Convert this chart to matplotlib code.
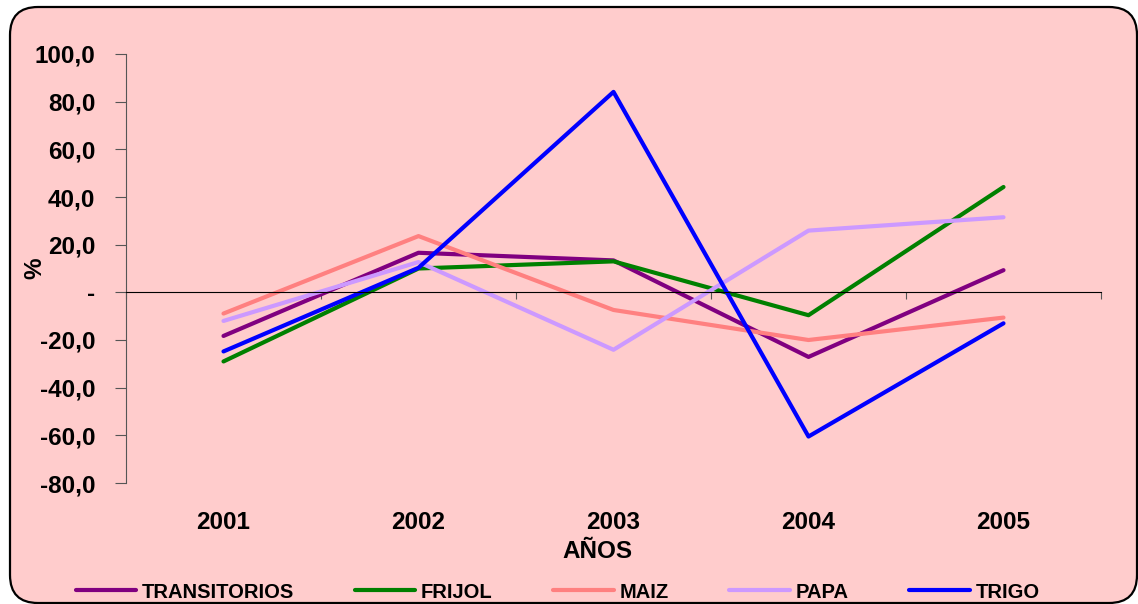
import matplotlib.pyplot as plt
from matplotlib.patches import FancyBboxPatch
from matplotlib.ticker import FuncFormatter

years = ["2001", "2002", "2003", "2004", "2005"]
transitorios = [-18.3, 16.6, 13.4, -27.1, 9.3]
frijol = [-29.0, 10.0, 13.0, -9.6, 44.2]
maiz = [-8.9, 23.6, -7.4, -20.0, -10.6]
papa = [-12.0, 12.7, -24.1, 25.9, 31.5]
trigo = [-24.8, 10.3, 84.1, -60.5, -13.0]

series = [
    ("TRANSITORIOS", transitorios, "#800080"),
    ("FRIJOL", frijol, "#008000"),
    ("MAIZ", maiz, "#FF8080"),
    ("PAPA", papa, "#CC99FF"),
    ("TRIGO", trigo, "#0000FF"),
]

plt.rcParams['font.family'] = ['Liberation Sans', 'DejaVu Sans']
plt.rcParams['font.weight'] = 'bold'

bg = "#FFCCCC"
fig = plt.figure(figsize=(11.38, 6.04), dpi=100)
fig.patch.set_facecolor("white")

# rounded chart-area border (pixel coords), kept behind the axes
frame = FancyBboxPatch((10, 1), 1127, 596, boxstyle="round,pad=0,rounding_size=28",
                       transform=None, facecolor=bg, edgecolor="black", linewidth=1.6,
                       zorder=-5)
fig.patches.append(frame)

ax = fig.add_axes([126 / 1138, 1 - 483 / 604, 975 / 1138, 429 / 604])
ax.patch.set_visible(False)

x = list(range(1, len(years) + 1))
for name, vals, color in series:
    ax.plot(x, vals, color=color, linewidth=3, label=name, solid_capstyle="round")

ax.set_xlim(0.5, len(years) + 0.5)
ax.set_ylim(-80, 100)
ax.set_yticks(range(-80, 101, 20))
ax.yaxis.set_major_formatter(FuncFormatter(
    lambda v, p: "-" if v == 0 else f"{v:.1f}".replace(".", ",")))
ax.tick_params(axis="y", direction="out", length=8, pad=14, labelsize=17.5,
               color="#555555")
ax.spines["left"].set_color("#555555")
ax.spines["top"].set_visible(False)
ax.spines["right"].set_visible(False)

# zero line with category boundary ticks
ax.spines["bottom"].set_position(("data", 0))
ax.spines["bottom"].set_color("black")
ax.set_xticks([i + 0.5 for i in range(len(years) + 1)])
ax.set_xticklabels([])
ax.tick_params(axis="x", direction="out", length=5, color="#555555")

# category labels at the bottom of the plot
sec = ax.secondary_xaxis(0.0)
sec.set_xticks(x)
sec.set_xticklabels(years)
sec.tick_params(length=0, pad=20, labelsize=17.5)
sec.spines["bottom"].set_visible(False)

fig.text(597 / 1138, 1 - 552 / 604, "AÑOS", fontsize=17.5, fontweight="bold",
         ha="center", va="center")

ax.set_ylabel("%", fontsize=17.5, fontweight="bold")
ax.yaxis.set_label_coords((46 - 126) / 975, 0.5)

fig.legend(loc="center", bbox_to_anchor=(0.49, 1 - 592 / 604), ncol=5, frameon=False,
           fontsize=14.5, handlelength=3.0, handletextpad=0.3, columnspacing=3.0)

plt.savefig("out.png", dpi=100, facecolor="white")
